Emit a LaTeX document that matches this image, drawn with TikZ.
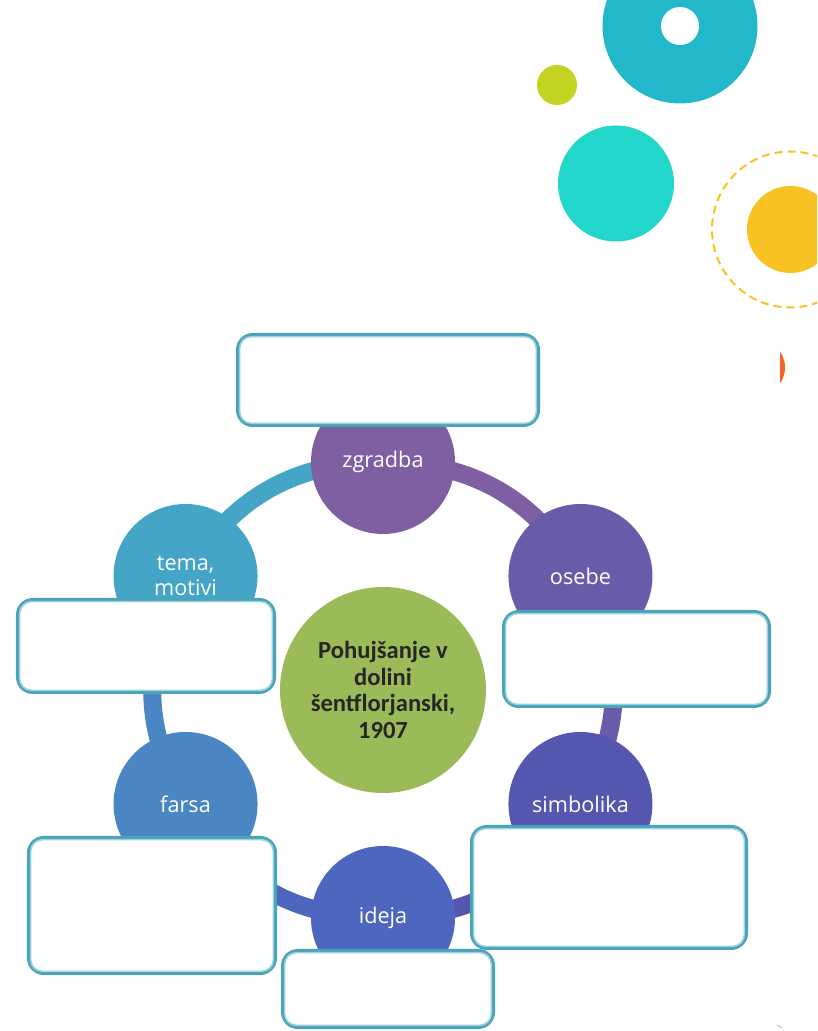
\documentclass[tikz,border=0pt]{standalone}
\usepackage{fontspec}
\setmainfont{Open Sans}
\newfontfamily\hubfont{Carlito}
\usepackage{tikz}
\usetikzlibrary{
    backgrounds,
    calc,
    positioning,
}
\definecolor{DotTeal}{HTML}{23B7CB}
\definecolor{DotLime}{HTML}{C4D321}
\definecolor{DotCyan}{HTML}{23D6CC}
\definecolor{DotYellow}{HTML}{F8C322}
\definecolor{DotOrange}{HTML}{F26522}
\definecolor{SlotTeal}{HTML}{4AA3B9}
\definecolor{SlotLine}{HTML}{9AD2E0}
\definecolor{HubGreen}{HTML}{9BBB59}
\definecolor{ColTema}{HTML}{44A5C6}
\definecolor{ColZgradba}{HTML}{7E5FA2}
\definecolor{ColOsebe}{HTML}{6A5BA8}
\definecolor{ColSimbolika}{HTML}{5557AE}
\definecolor{ColIdeja}{HTML}{4E66BD}
\definecolor{ColFarsa}{HTML}{4A86C3}
\tikzstyle{petal}=[circle,inner sep=0mm,minimum size=43.2mm,text=white,align=center,font=\fontsize{18.5}{21.5}\selectfont]
\tikzstyle{hubnode}=[circle,fill=HubGreen,inner sep=0mm,minimum size=61.8mm,text=black!85,align=center,font=\hubfont\bfseries\fontsize{21}{22.6}\selectfont]
\tikzstyle{band}=[line width=5.4mm]
\tikzstyle{slot}=[draw=SlotTeal,fill=white,line width=1.1mm,rounded corners=4.5mm,inner sep=0mm]
\tikzstyle{slotline}=[draw=SlotLine,line width=0.45mm,rounded corners=3.5mm]
\newcommand{\Slot}[3][]{%
    \node[slot,#1] (#2) at #3 {};
    \draw[slotline] ($(#2.north west)+(1.1mm,-1.1mm)$) rectangle ($(#2.south east)+(-1.1mm,1.1mm)$);
}

\begin{document}
\begin{tikzpicture}[x=0.3mm,y=0.3mm]
    \clip (0,0) rectangle (817,1031);
    % Dots
    \fill[DotTeal] (680,1005) circle (77.5);
    \fill[white] (680,1005) circle (19);
    \fill[DotLime] (557,946) circle (20);
    \fill[DotCyan] (616,847.5) circle (58);
    \fill[DotYellow] (790.5,801.5) circle (43.5);
    \draw[DotYellow,line width=0.6mm,dash pattern=on 2.4mm off 1.5mm] (790,801.5) circle (78);
    \begin{scope}
        \clip (780,600) rectangle (800,700);
        \fill[DotOrange] (757,663.5) circle (28);
    \end{scope}

    % Ring
    \coordinate (hub) at (383,341);
    \node[hubnode] (centre) at (hub) {Pohujšanje v\\dolini\\šentflorjanski,\\1907};
    \node[petal,fill=ColZgradba] (zgradba) at ($(hub)+(90:228)$) {zgradba};
    \node[petal,fill=ColOsebe] (osebe) at ($(hub)+(30:228)$) {osebe};
    \node[petal,fill=ColSimbolika] (simbolika) at ($(hub)+(-30:228)$) {simbolika};
    \node[petal,fill=ColIdeja] (ideja) at ($(hub)+(-90:228)$) {ideja};
    \node[petal,fill=ColFarsa] (farsa) at ($(hub)+(-150:228)$) {farsa};
    \node[petal,fill=ColTema] (tema) at ($(hub)+(150:228)$) {tema,\\motivi};

    \begin{scope}[on background layer]
        \draw[band,ColTema] (tema.center) to[bend left=30] (zgradba.center);
        \draw[band,ColZgradba] (zgradba.center) to[bend left=30] (osebe.center);
        \draw[band,ColOsebe] (osebe.center) to[bend left=30] (simbolika.center);
        \draw[band,ColSimbolika] (simbolika.center) to[bend left=30] (ideja.center);
        \draw[band,ColIdeja] (ideja.center) to[bend left=30] (farsa.center);
        \draw[band,ColFarsa] (farsa.center) to[bend left=30] (tema.center);
    \end{scope}

    % Empty boxes
    \Slot[minimum width=90.1mm,minimum height=27.1mm]{zgradba slot}{(388,651)}
    \Slot[minimum width=76.9mm,minimum height=27.7mm]{tema slot}{(146,385)}
    \Slot[minimum width=79.6mm,minimum height=28.3mm]{osebe slot}{(636.5,372)}
    \Slot[minimum width=73.9mm,minimum height=40.6mm]{farsa slot}{(152,125.5)}
    \Slot[minimum width=82.3mm,minimum height=36.4mm]{simbolika slot}{(609,143.5)}
    \Slot[minimum width=63.1mm,minimum height=22.9mm]{ideja slot}{(388,42)}

    \draw[SlotLine,line width=0.3mm] (777,6) -- (782,3);
\end{tikzpicture}
\end{document}
